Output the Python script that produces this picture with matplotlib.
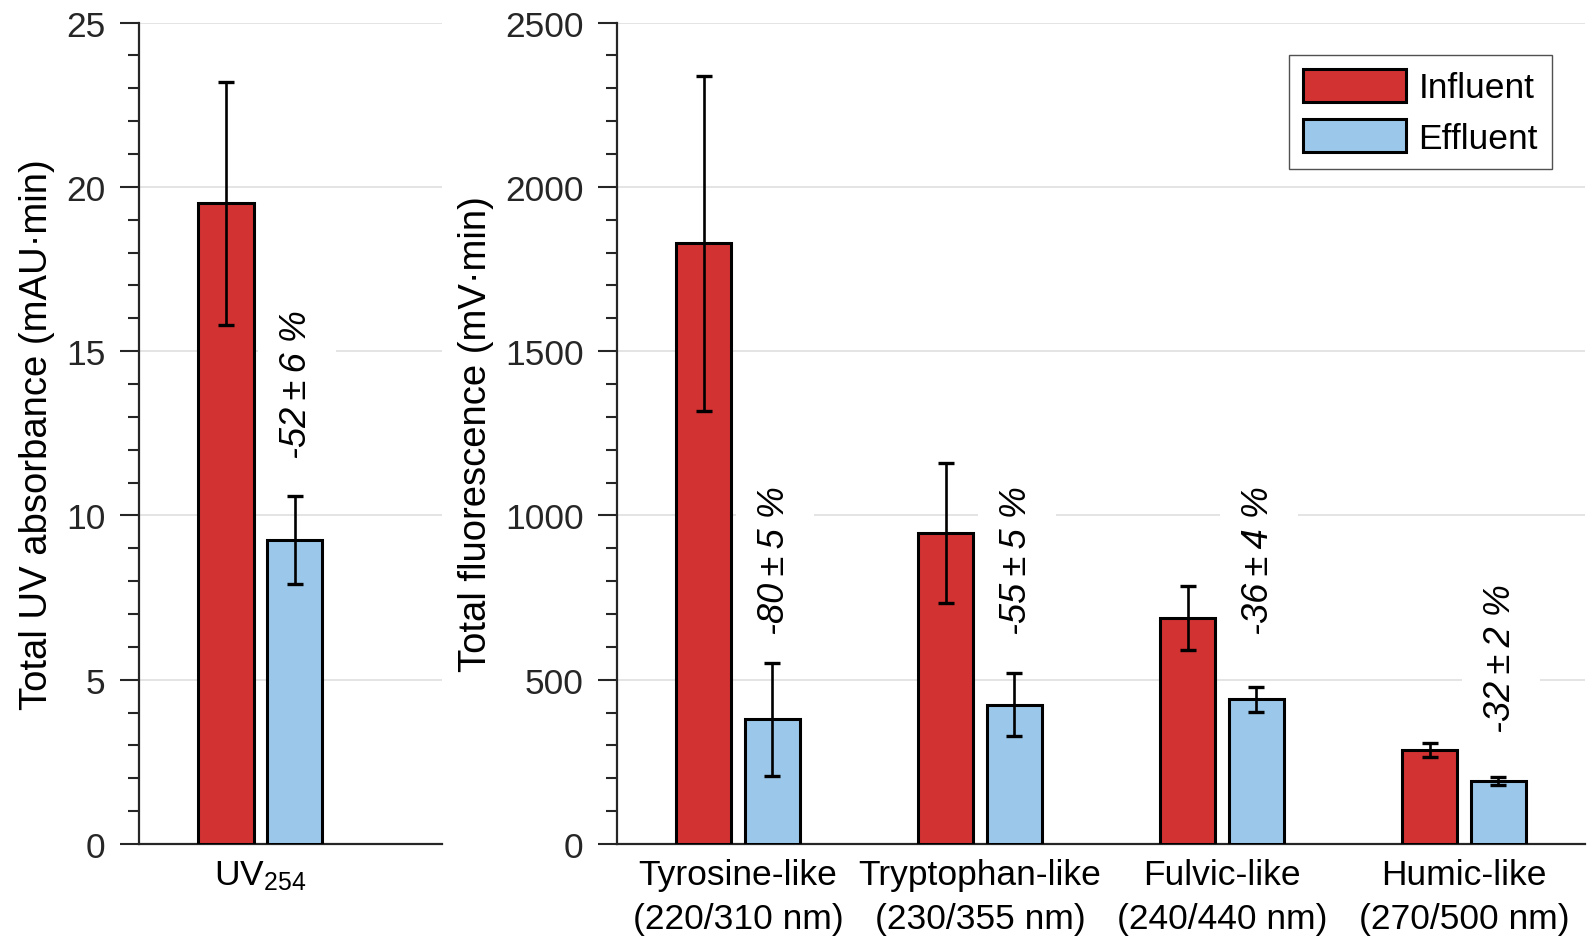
import matplotlib
matplotlib.use("Agg")
import matplotlib.pyplot as plt
from matplotlib.ticker import MultipleLocator
import numpy as np

plt.rcParams['font.family'] = ['Liberation Sans', 'DejaVu Sans']
plt.rcParams['mathtext.fontset'] = 'custom'
plt.rcParams['mathtext.rm'] = 'Liberation Sans'
plt.rcParams['mathtext.it'] = 'Liberation Sans:italic'

# UV254 absorbance (mAU*min)
uv_labels = ['UV$_{254}$']
uv_influent = [19.5]
uv_influent_err = [3.7]
uv_effluent = [9.25]
uv_effluent_err = [1.33]
uv_removal = ['-52\u2009\u00b1\u20096 %']
uv_removal_y = [14.0]

# fluorescence regions (mV*min)
fl_labels = ['Tyrosine-like\n(220/310 nm)', 'Tryptophan-like\n(230/355 nm)',
             'Fulvic-like\n(240/440 nm)', 'Humic-like\n(270/500 nm)']
fl_influent = [1828, 946, 688, 286]
fl_influent_err = [510, 212, 97, 21]
fl_effluent = [380, 424, 440, 193]
fl_effluent_err = [172, 95, 38, 12]
fl_removal = ['-80\u2009\u00b1\u20095 %', '-55\u2009\u00b1\u20095 %',
              '-36\u2009\u00b1\u20094 %', '-32\u2009\u00b1\u20092 %']
fl_removal_y = [867, 867, 867, 566]

red = '#d23232'
blue = '#9bc8ea'
dark = '#262626'
fs = 25.5
w = 0.23
off = 0.142

fig = plt.figure(figsize=(15.89, 9.37), dpi=100)
ax1 = fig.add_axes([0.0875, 0.0982, 0.1905, 0.8767])
ax2 = fig.add_axes([0.3883, 0.0982, 0.6092, 0.8767])


def draw(ax, labels, inf, inf_err, eff, eff_err, removal, removal_y):
    x = np.arange(1, len(labels) + 1)
    ekw = dict(elinewidth=1.9, capthick=2.4, ecolor='black')
    ax.bar(x - off, inf, w, yerr=inf_err, color=red, edgecolor='black',
           linewidth=2.2, capsize=6, error_kw=ekw, zorder=3, label='Influent')
    ax.bar(x + off, eff, w, yerr=eff_err, color=blue, edgecolor='black',
           linewidth=2.2, capsize=6, error_kw=ekw, zorder=3, label='Effluent')
    for xi, txt, yi in zip(x, removal, removal_y):
        ax.text(xi + off + 0.01, yi, txt, rotation=90, style='italic',
                fontsize=26, ha='center', va='center', zorder=4,
                bbox=dict(boxstyle='square,pad=0.6', fc='white', ec='none'))
    ax.set_xticks(x)
    ax.set_xticklabels(labels, fontsize=fs, color='black', linespacing=1.42)
    ax.tick_params(axis='x', length=0, pad=10)
    ax.tick_params(axis='y', which='major', length=14, width=1.5,
                   direction='out', labelsize=fs, labelcolor=dark, color=dark, pad=10)
    ax.tick_params(axis='y', which='minor', length=8, width=1.5,
                   direction='out', color=dark)
    ax.yaxis.grid(True, color='#e2e2e2', linewidth=1.3, zorder=0)
    ax.set_axisbelow(True)
    for s in ['top', 'right']:
        ax.spines[s].set_visible(False)
    ax.spines['left'].set_linewidth(1.6)
    ax.spines['left'].set_color(dark)
    ax.spines['bottom'].set_linewidth(1.6)
    ax.spines['bottom'].set_color(dark)


draw(ax1, uv_labels, uv_influent, uv_influent_err, uv_effluent, uv_effluent_err,
     uv_removal, uv_removal_y)
ax1.set_xlim(0.5, 1.75)
ax1.set_ylim(0, 25)
ax1.yaxis.set_major_locator(MultipleLocator(5))
ax1.yaxis.set_minor_locator(MultipleLocator(1))
ax1.set_ylabel('Total UV absorbance (mAU\u00b7min)', fontsize=27.5, labelpad=8)

draw(ax2, fl_labels, fl_influent, fl_influent_err, fl_effluent, fl_effluent_err,
     fl_removal, fl_removal_y)
ax2.set_xlim(0.5, 4.5)
ax2.set_ylim(0, 2500)
ax2.yaxis.set_major_locator(MultipleLocator(500))
ax2.yaxis.set_minor_locator(MultipleLocator(100))
ax2.set_ylabel('Total fluorescence (mV\u00b7min)', fontsize=27.5, labelpad=8)

leg = ax2.legend(loc='upper right', bbox_to_anchor=(0.966, 0.961), fontsize=fs,
                 fancybox=False, edgecolor=dark, handlelength=2.9,
                 handleheight=1.05, handletextpad=0.35, borderpad=0.4,
                 labelspacing=0.42, borderaxespad=0)
leg.get_frame().set_linewidth(1.0)

fig.savefig('out.png', dpi=100)
